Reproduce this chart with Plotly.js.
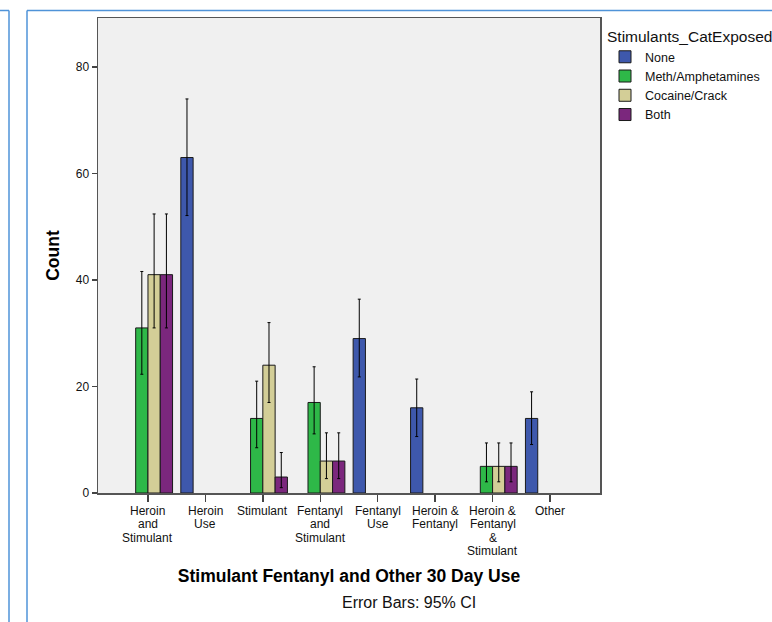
<!DOCTYPE html>
<html>
<head>
<meta charset="utf-8">
<script src="https://cdn.plot.ly/plotly-3.0.1.min.js"></script>
<style>html,body{margin:0;padding:0;background:#fff;}#chart{width:772px;height:622px;}</style>
</head>
<body>
<div id="chart"></div>
<script>
// ---- data ----
const categories = ['Heroin<br>and<br>Stimulant', 'Heroin<br>Use', 'Stimulant', 'Fentanyl<br>and<br>Stimulant',
  'Fentanyl<br>Use', 'Heroin &<br>Fentanyl', 'Heroin &<br>Fentanyl<br>&<br>Stimulant', 'Other'];
const seriesNames = ['None', 'Meth/Amphetamines', 'Cocaine/Crack', 'Both'];
const seriesColors = ['#3e58ac', '#2eb848', '#d3ce97', '#7b277d'];

const noneCount = [null, 63, null, null, 29, 16, null, 14];
const noneLower = [null, 52.1, null, null, 21.8, 10.6, null, 9.1];
const noneUpper = [null, 74.0, null, null, 36.4, 21.4, null, 19.0];

const methCount = [31, null, 14, 17, null, null, 5, null];
const methLower = [22.3, null, 8.5, 11.1, null, null, 2.1, null];
const methUpper = [41.6, null, 21.0, 23.7, null, null, 9.4, null];

const cocaineCount = [41, null, 24, 6, null, null, 5, null];
const cocaineLower = [31.0, null, 17.0, 2.7, null, null, 2.1, null];
const cocaineUpper = [52.4, null, 32.0, 11.3, null, null, 9.4, null];

const bothCount = [41, null, 3, 6, null, null, 5, null];
const bothLower = [31.0, null, 1.0, 2.7, null, null, 2.1, null];
const bothUpper = [52.4, null, 7.6, 11.3, null, null, 9.4, null];

const yTicks = [0, 20, 40, 60, 80];

// ---- build ----
const counts = [noneCount, methCount, cocaineCount, bothCount];
const lowers = [noneLower, methLower, cocaineLower, bothLower];
const uppers = [noneUpper, methUpper, cocaineUpper, bothUpper];

const FONT = 'Liberation Sans, Arial, sans-serif';

const traces = seriesNames.map((name, s) => ({
  type: 'bar',
  name: name,
  x: categories,
  y: counts[s],
  marker: {color: seriesColors[s], line: {color: '#1a1a1a', width: 1}},
  error_y: {
    type: 'data', symmetric: false, visible: true,
    array: counts[s].map((v, i) => v == null ? null : uppers[s][i] - v),
    arrayminus: counts[s].map((v, i) => v == null ? null : v - lowers[s][i]),
    color: '#000', thickness: 1, width: 1.5
  },
  hoverinfo: 'x+y+name'
}));

// plot-area geometry in pixels (for decorative frame conversion)
const L = 98, R = 600, T = 18, B = 493;
const px = v => (v - L) / (R - L);
const py = v => (B - v) / (B - T);

const annotations = [];
categories.forEach(c => {
  c.split('<br>').forEach((line, j) => {
    annotations.push({
      x: c, y: 0, xref: 'x', yref: 'y', text: line, showarrow: false,
      xanchor: 'center', yanchor: 'middle', yshift: -(17.5 + j * 13.6), borderpad: 0,
      font: {family: FONT, size: 12, color: '#111'}
    });
  });
});
annotations.push({
  x: px(409), y: py(602), xref: 'paper', yref: 'paper', text: 'Error Bars: 95% CI',
  showarrow: false, xanchor: 'center', yanchor: 'middle',
  font: {family: FONT, size: 16, color: '#111'}
});

const frameColor = '#4f93d8';
const shapes = [
  {type: 'line', xref: 'paper', yref: 'paper', x0: px(0), x1: px(9), y0: py(10.5), y1: py(10.5), line: {color: frameColor, width: 1.5}},
  {type: 'line', xref: 'paper', yref: 'paper', x0: px(9), x1: px(9), y0: py(10.5), y1: py(623), line: {color: frameColor, width: 1.5}},
  {type: 'line', xref: 'paper', yref: 'paper', x0: px(27), x1: px(772), y0: py(10.5), y1: py(10.5), line: {color: frameColor, width: 1.5}},
  {type: 'line', xref: 'paper', yref: 'paper', x0: px(27), x1: px(27), y0: py(10.5), y1: py(623), line: {color: frameColor, width: 1.5}}
];

const layout = {
  width: 772, height: 622,
  margin: {l: L, r: 772 - R, t: T, b: 622 - B, autoexpand: false},
  paper_bgcolor: '#ffffff',
  plot_bgcolor: '#f0f0f0',
  barmode: 'group', bargap: 0.144, bargroupgap: 0,
  font: {family: FONT, size: 12, color: '#111'},
  xaxis: {
    type: 'category', range: [-0.87, 7.87], showticklabels: false,
    ticks: 'outside', ticklen: 7, tickwidth: 1.5, tickcolor: '#444',
    showline: true, mirror: true, linecolor: '#555', linewidth: 1.5,
    showgrid: false, zeroline: false,
    title: {text: 'Stimulant Fentanyl and Other 30 Day Use', standoff: 69,
      font: {family: FONT, size: 17.5, color: '#000', weight: 'bold'}}
  },
  yaxis: {
    range: [0, 89.2], tickvals: yTicks, ticktext: yTicks.map(String),
    ticks: 'outside', ticklen: 5, tickwidth: 1.5, tickcolor: '#444',
    tickfont: {family: FONT, size: 12, color: '#111'},
    showline: true, mirror: true, linecolor: '#555', linewidth: 1.5,
    showgrid: false, zeroline: false,
    title: {text: 'Count', standoff: 11,
      font: {family: FONT, size: 17.5, color: '#000', weight: 'bold'}}
  },
  legend: {
    x: px(605), y: py(22), xanchor: 'left', yanchor: 'top',
    bgcolor: 'rgba(0,0,0,0)', borderwidth: 0,
    font: {family: FONT, size: 12.5, color: '#111'},
    title: {text: 'Stimulants_CatExposed', font: {family: FONT, size: 15.5, color: '#111'}},
    tracegroupgap: 0, itemwidth: 30
  },
  annotations: annotations,
  shapes: shapes,
  showlegend: true
};

Plotly.newPlot('chart', traces, layout, {displayModeBar: false, staticPlot: true});
</script>
</body>
</html>
